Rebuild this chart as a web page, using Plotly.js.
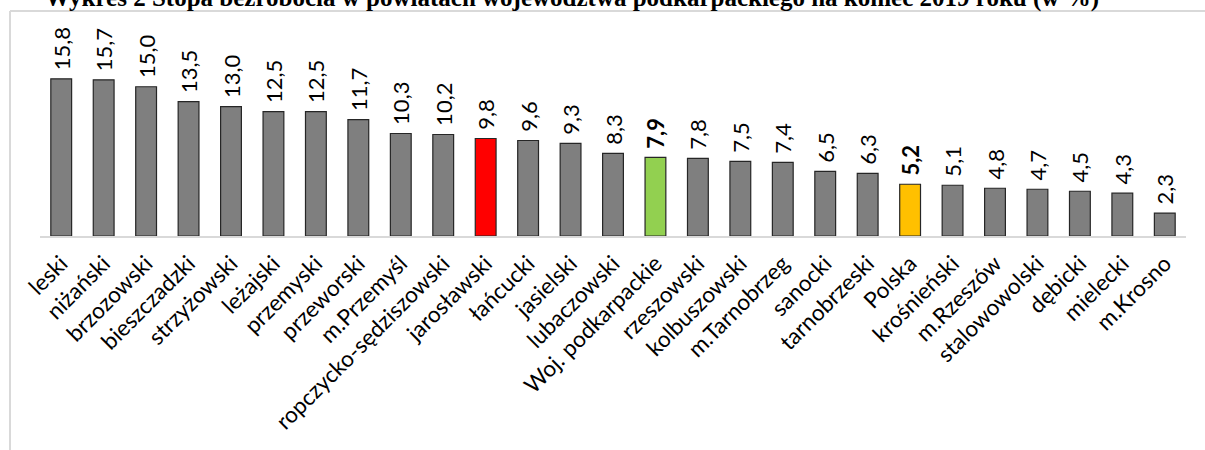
<!DOCTYPE html>
<html>
<head>
<meta charset="utf-8">
<script src="https://cdn.plot.ly/plotly-3.0.1.min.js"></script>
<style>html,body{margin:0;padding:0;background:#fff;}#chart{width:1205px;height:450px;}</style>
</head>
<body>
<div id="chart"></div>
<script>
const categories = ["leski","niżański","brzozowski","bieszczadzki","strzyżowski","leżajski","przemyski","przeworski","m.Przemyśl","ropczycko-sędziszowski","jarosławski","łańcucki","jasielski","lubaczowski","Woj. podkarpackie","rzeszowski","kolbuszowski","m.Tarnobrzeg","sanocki","tarnobrzeski","Polska","krośnieński","m.Rzeszów","stalowowolski","dębicki","mielecki","m.Krosno"];
const values = [15.8,15.7,15.0,13.5,13.0,12.5,12.5,11.7,10.3,10.2,9.8,9.6,9.3,8.3,7.9,7.8,7.5,7.4,6.5,6.3,5.2,5.1,4.8,4.7,4.5,4.3,2.3];
const highlight = {"jarosławski":"#ff0000","Woj. podkarpackie":"#92d050","Polska":"#ffc000"};
const boldLabels = ["Woj. podkarpackie","Polska"];
const titleText = "Wykres 2 Stopa bezrobocia w powiatach województwa podkarpackiego na koniec 2019 roku (w %)";

const colors = categories.map(c => highlight[c] || "#7f7f7f");
const labels = values.map((v,i) => {
  const s = v.toFixed(1).replace(".", ",");
  return "\u00a0" + (boldLabels.includes(categories[i]) ? "<b>" + s + "</b>" : s);
});

const trace = {
  type: "bar",
  x: categories,
  y: values,
  text: labels,
  texttemplate: "%{text}",
  textposition: "outside",
  textangle: -90,
  constraintext: "none",
  cliponaxis: false,
  textfont: {family: "Lato, 'Open Sans', sans-serif", size: 22, color: "#000"},
  marker: {color: colors, line: {color: "#262626", width: 1.2}},
  hoverinfo: "none"
};

const layout = {
  width: 1205, height: 450,
  margin: {l: 40, r: 19, t: 37, b: 214, pad: 0},
  paper_bgcolor: "#fff", plot_bgcolor: "#fff",
  bargap: 0.51,
  showlegend: false,
  xaxis: {type: "category", tickangle: -45, showgrid: false, zeroline: false, showline: true, linecolor: "#d9d9d9", linewidth: 1.5,
          ticks: "", ticklabelstandoff: 4, tickfont: {family: "Lato, 'Open Sans', sans-serif", size: 22.5, color: "#000"}, fixedrange: true},
  yaxis: {range: [0, 20], visible: false, showgrid: false, zeroline: false, fixedrange: true},
  annotations: [
    {text: "<b>" + titleText + "</b>", xref: "paper", yref: "paper", x: (571.5 - 40) / 1146, y: 1.198,
     xanchor: "center", yanchor: "middle", showarrow: false,
     font: {family: "'Liberation Serif', 'Times New Roman', serif", size: 25, color: "#000"}}
  ],
  shapes: [
    {type: "line", xref: "paper", yref: "paper", x0: -0.02618, x1: -0.02618, y0: 1.1307, y1: -1.2, line: {color: "#d9d9d9", width: 2}},
    {type: "line", xref: "paper", yref: "paper", x0: -0.02618, x1: 1.1, y0: 1.1307, y1: 1.1307, line: {color: "#d9d9d9", width: 2}}
  ]
};

Plotly.newPlot("chart", [trace], layout, {staticPlot: true, displayModeBar: false});
</script>
</body>
</html>
